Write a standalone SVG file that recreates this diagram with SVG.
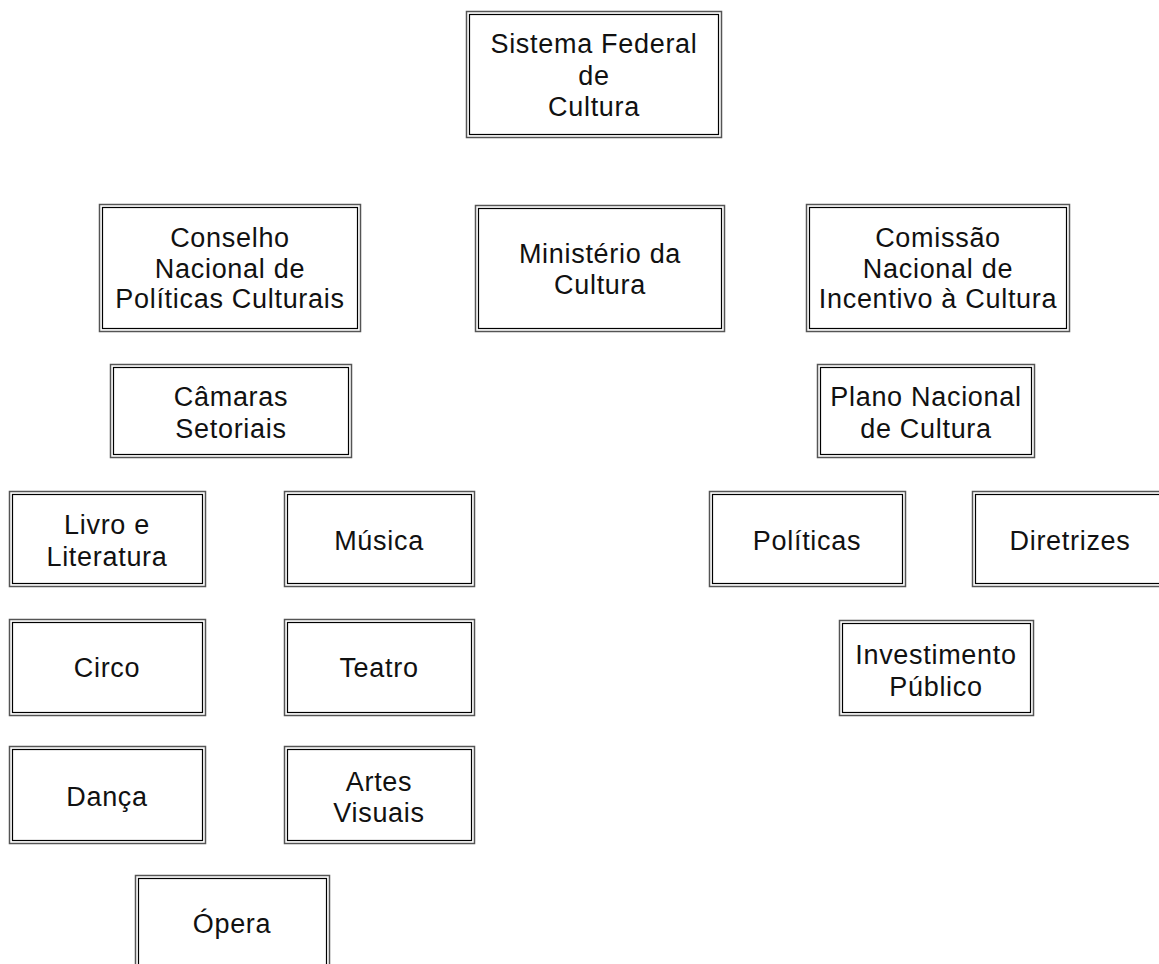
<svg xmlns="http://www.w3.org/2000/svg" width="1159" height="964" viewBox="0 0 1159 964">
<style>
.o{fill:#fff;stroke:#555;stroke-width:1.5}
.i{fill:none;stroke:#000;stroke-width:1.2}
text{font-family:"Liberation Sans",Arial,sans-serif;font-size:27px;fill:#111;text-anchor:middle;letter-spacing:0.7px}
</style>
<rect width="1159" height="964" fill="#fff"/>
<g id="connectors"/>
<g id="n-sistema">
<rect class="o" x="466.5" y="11.5" width="255" height="126"/><rect class="i" x="469.5" y="14.5" width="249" height="120"/>
<text x="594" y="53">Sistema Federal</text><text x="594" y="85">de</text><text x="594" y="116">Cultura</text>
</g>
<g id="n-conselho">
<rect class="o" x="99.5" y="204.5" width="261" height="127"/><rect class="i" x="102.5" y="207.5" width="255" height="121"/>
<text x="230" y="247">Conselho</text><text x="230" y="278">Nacional de</text><text x="230" y="308">Políticas Culturais</text>
</g>
<g id="n-ministerio">
<rect class="o" x="475.5" y="205.5" width="249" height="126"/><rect class="i" x="478.5" y="208.5" width="243" height="120"/>
<text x="600" y="263">Ministério da</text><text x="600" y="294">Cultura</text>
</g>
<g id="n-comissao">
<rect class="o" x="806.5" y="204.5" width="263" height="127"/><rect class="i" x="809.5" y="207.5" width="257" height="121"/>
<text x="938" y="247">Comissão</text><text x="938" y="278">Nacional de</text><text x="938" y="308">Incentivo à Cultura</text>
</g>
<g id="n-camaras">
<rect class="o" x="110.5" y="364.5" width="241" height="93"/><rect class="i" x="113.5" y="367.5" width="235" height="87"/>
<text x="231" y="406">Câmaras</text><text x="231" y="438">Setoriais</text>
</g>
<g id="n-plano">
<rect class="o" x="817.5" y="364.5" width="217" height="93"/><rect class="i" x="820.5" y="367.5" width="211" height="87"/>
<text x="926" y="406">Plano Nacional</text><text x="926" y="438">de Cultura</text>
</g>
<g id="n-livro">
<rect class="o" x="9.5" y="491.5" width="196" height="95"/><rect class="i" x="12.5" y="494.5" width="190" height="89"/>
<text x="107" y="534">Livro e</text><text x="107" y="566">Literatura</text>
</g>
<g id="n-musica">
<rect class="o" x="284.5" y="491.5" width="190" height="95"/><rect class="i" x="287.5" y="494.5" width="184" height="89"/>
<text x="379" y="550">Música</text>
</g>
<g id="n-politicas">
<rect class="o" x="709.5" y="491.5" width="196" height="95"/><rect class="i" x="712.5" y="494.5" width="190" height="89"/>
<text x="807" y="550">Políticas</text>
</g>
<g id="n-diretrizes">
<rect class="o" x="972.5" y="491.5" width="196" height="95"/><rect class="i" x="975.5" y="494.5" width="190" height="89"/>
<text x="1070" y="550">Diretrizes</text>
</g>
<g id="n-circo">
<rect class="o" x="9.5" y="619.5" width="196" height="96"/><rect class="i" x="12.5" y="622.5" width="190" height="90"/>
<text x="107" y="677">Circo</text>
</g>
<g id="n-teatro">
<rect class="o" x="284.5" y="619.5" width="190" height="96"/><rect class="i" x="287.5" y="622.5" width="184" height="90"/>
<text x="379" y="677">Teatro</text>
</g>
<g id="n-investimento">
<rect class="o" x="839.5" y="620.5" width="194" height="95"/><rect class="i" x="842.5" y="623.5" width="188" height="89"/>
<text x="936" y="664">Investimento</text><text x="936" y="696">Público</text>
</g>
<g id="n-danca">
<rect class="o" x="9.5" y="746.5" width="196" height="97"/><rect class="i" x="12.5" y="749.5" width="190" height="91"/>
<text x="107" y="806">Dança</text>
</g>
<g id="n-artes">
<rect class="o" x="284.5" y="746.5" width="190" height="97"/><rect class="i" x="287.5" y="749.5" width="184" height="91"/>
<text x="379" y="791">Artes</text><text x="379" y="822">Visuais</text>
</g>
<g id="n-opera">
<rect class="o" x="135.5" y="875.5" width="194" height="110"/><rect class="i" x="138.5" y="878.5" width="188" height="104"/>
<text x="232" y="933">Ópera</text>
</g>
</svg>
